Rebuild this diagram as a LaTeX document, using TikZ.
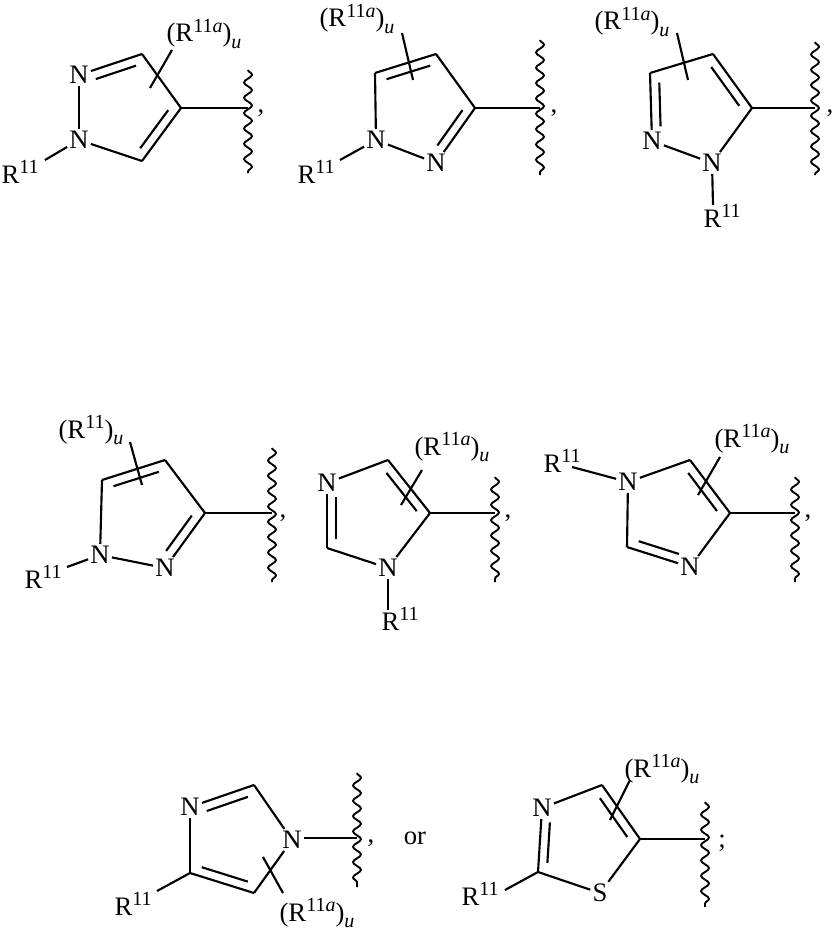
\documentclass[tikz,border=0pt]{standalone}
\usepackage{fontspec}
\setmainfont{Liberation Serif}
\usetikzlibrary{calc,decorations.pathmorphing}
\tikzset{
  bond/.style={line width=1.6pt},
  atom/.style={inner sep=1.5pt,font=\fontsize{20}{22}\selectfont},
  lab/.style={inner sep=1pt,anchor=base west,font=\fontsize{20}{22}\selectfont},
  wavy/.style={line width=1.4pt,decorate,decoration={snake,amplitude=3pt,segment length=11.5pt}},
}
\newcommand\dbl[5]{\draw[bond] (#1)--(#2);
  \draw[bond,shorten <=#4,shorten >=#5] ($(#1)!0.2!(#3)$) -- ($(#2)!0.2!(#3)$);}
\newcommand\sgl[2]{\draw[bond] (#1)--(#2);}
\newcommand\mysup[1]{\raisebox{0.36em}{\fontsize{15}{15}\selectfont #1}}
\newcommand\mysub[1]{\raisebox{-0.25em}{\fontsize{15}{15}\selectfont\itshape #1}}
\newcommand\Ra{(R\mysup{11\textit{a}})\mysub{u}}
\newcommand\Rb{(R\mysup{11})\mysub{u}}
\newcommand\Rr{R\mysup{11}}
\begin{document}
\begin{tikzpicture}[x=0.75pt,y=-0.75pt]
\useasboundingbox (0,0) rectangle (837,931);
% ---------- S1
\node[atom] (a2) at (79,75) {N};
\node[atom] (a1) at (79,140) {N};
\coordinate (a3) at (142,54); \coordinate (a4) at (181,108); \coordinate (a5) at (142,161);
\coordinate (ac) at (125,108);
\dbl{a2}{a3}{ac}{6pt}{2pt} \sgl{a3}{a4} \dbl{a4}{a5}{ac}{2pt}{2pt} \sgl{a5}{a1} \sgl{a1}{a2}
\node[lab] (ar) at (0,183) {\Rr}; \draw[bond] (a1)--(45,160);
\coordinate (aw) at (248,108); \sgl{a4}{aw}
\draw[wavy] (248,70)--(248,173);
\node[atom] (acm) at (261,113) {,};
\draw[bond] (172,50)--(150,88);
\node[lab] (al) at (165,42) {\Ra};
% ---------- S2
\node[atom] (b1) at (376,140) {N};
\node[atom] (b2) at (436,163) {N};
\coordinate (b5) at (375,73); \coordinate (b4) at (436,54); \coordinate (b3) at (475,108);
\coordinate (bc) at (420,108);
\sgl{b1}{b5} \dbl{b5}{b4}{bc}{2pt}{2pt} \sgl{b4}{b3} \dbl{b3}{b2}{bc}{2pt}{6pt} \sgl{b2}{b1}
\node[lab] (br) at (296,183) {\Rr}; \draw[bond] (b1)--(340,160);
\coordinate (bw) at (540,108); \sgl{b3}{bw}
\draw[wavy] (540,40)--(540,175);
\node[atom] (bcm) at (554,113) {,};
\draw[bond] (402,33)--(413,80);
\node[lab] (bl) at (318,27) {\Ra};
% ---------- S3
\node[atom] (c2) at (652,141) {N};
\node[atom] (c1) at (712,163) {N};
\coordinate (c3) at (650,73); \coordinate (c4) at (713,54); \coordinate (c5) at (752,108);
\coordinate (cc) at (696,108);
\dbl{c2}{c3}{cc}{6pt}{2pt} \sgl{c3}{c4} \dbl{c4}{c5}{cc}{2pt}{2pt} \sgl{c5}{c1} \sgl{c1}{c2}
\node[lab] (cr) at (702,227) {\Rr}; \draw[bond] (c1)--(713,205);
\coordinate (cw) at (815,108); \sgl{c5}{cw}
\draw[wavy] (815,42)--(815,175);
\node[atom] (ccm) at (830,113) {,};
\draw[bond] (677,33)--(688,80);
\node[lab] (cl) at (593,30) {\Ra};
% ---------- S4
\node[atom] (d1) at (100,555) {N};
\node[atom] (d2) at (165,568) {N};
\coordinate (d5) at (102,480); \coordinate (d4) at (165,460); \coordinate (d3) at (205,513);
\coordinate (dc) at (147,515);
\sgl{d1}{d5} \dbl{d5}{d4}{dc}{2pt}{2pt} \sgl{d4}{d3} \dbl{d3}{d2}{dc}{2pt}{6pt} \sgl{d2}{d1}
\node[lab] (dr) at (23,588) {\Rr}; \draw[bond] (d1)--(67,567);
\coordinate (dw) at (272,513); \sgl{d3}{dw}
\draw[wavy] (272,448)--(272,582);
\node[atom] (dcm) at (283,518) {,};
\draw[bond] (130,442)--(142,485);
\node[lab] (dl) at (57,438) {\Rb};
% ---------- S5
\node[atom] (e3) at (327,483) {N};
\node[atom] (e1) at (388,568) {N};
\coordinate (e4) at (388,460); \coordinate (e5) at (430,513); \coordinate (e2) at (327,548);
\coordinate (ec) at (372,514);
\sgl{e3}{e4} \dbl{e4}{e5}{ec}{2pt}{2pt} \sgl{e5}{e1} \sgl{e1}{e2} \dbl{e2}{e3}{ec}{2pt}{6pt}
\node[lab] (er) at (380,630) {\Rr}; \draw[bond] (e1)--(388,610);
\coordinate (ew) at (495,513); \sgl{e5}{ew}
\draw[wavy] (495,477)--(495,582);
\node[atom] (ecm) at (508,518) {,};
\draw[bond] (422,470)--(401,505);
\node[lab] (el) at (413,455) {\Ra};
% ---------- S6
\node[atom] (f1) at (628,482) {N};
\node[atom] (f3) at (690,567) {N};
\coordinate (f5) at (690,460); \coordinate (f4) at (730,513); \coordinate (f2) at (627,547);
\coordinate (fc) at (673,514);
\sgl{f1}{f5} \dbl{f5}{f4}{fc}{2pt}{2pt} \sgl{f4}{f3} \dbl{f2}{f3}{fc}{2pt}{6pt} \sgl{f2}{f1}
\node[lab] (fr) at (542,472) {\Rr}; \draw[bond] (f1)--(572,467);
\coordinate (fw) at (795,513); \sgl{f4}{fw}
\draw[wavy] (795,477)--(795,582);
\node[atom] (fcm) at (808,518) {,};
\draw[bond] (720,457)--(698,495);
\node[lab] (fl) at (713,447) {\Ra};
% ---------- S7
\node[atom] (g3) at (190,807) {N};
\node[atom] (g1) at (292,840) {N};
\coordinate (g2) at (254,785); \coordinate (g5) at (254,893); \coordinate (g4) at (190,873);
\coordinate (gc) at (236,840);
\dbl{g3}{g2}{gc}{6pt}{2pt} \sgl{g2}{g1} \sgl{g1}{g5} \dbl{g5}{g4}{gc}{2pt}{2pt} \sgl{g4}{g3}
\node[lab] (gr) at (113,915) {\Rr}; \draw[bond] (g4)--(157,891);
\coordinate (gw) at (357,838); \draw[bond] (g1.east|-gw)--(gw);
\draw[wavy] (357,773)--(357,887);
\node[atom] (gcm) at (371,843) {,};
\node[atom] (gor) at (415,838) {or};
\draw[bond] (263,857)--(283,893);
\node[lab] (gl) at (278,921) {\Ra};
% ---------- S8
\node[atom] (h3) at (542,808) {N};
\node[atom] (hs) at (600,893) {S};
\coordinate (h4) at (602,785); \coordinate (h5) at (640,839); \coordinate (h2) at (538,872);
\coordinate (hc) at (584,840);
\sgl{h3}{h4} \dbl{h4}{h5}{hc}{2pt}{2pt} \sgl{h5}{hs} \sgl{hs}{h2} \dbl{h2}{h3}{hc}{2pt}{6pt}
\node[lab] (hr) at (460,905) {\Rr}; \draw[bond] (h2)--(505,890);
\coordinate (hw) at (705,839); \sgl{h5}{hw}
\draw[wavy] (705,802)--(705,907);
\node[atom] (hcm) at (722,843) {;};
\draw[bond] (630,780)--(610,820);
\node[lab] (hl) at (623,777) {\Ra};
\end{tikzpicture}
\end{document}
